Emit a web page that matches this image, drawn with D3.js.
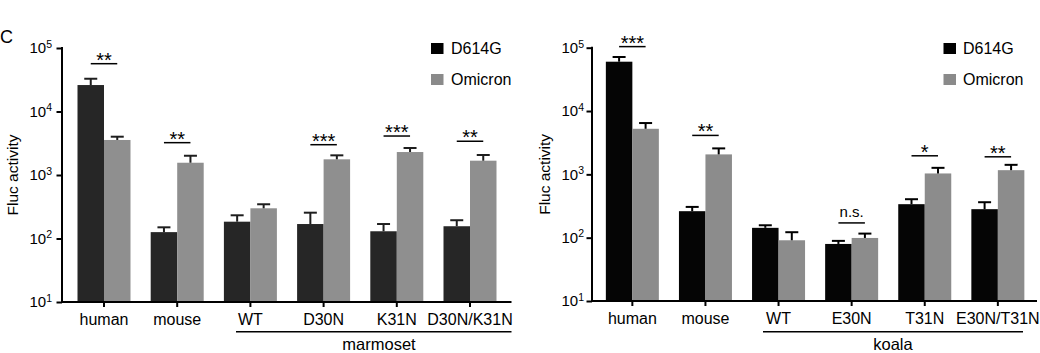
<!DOCTYPE html>
<html>
<head>
<meta charset="utf-8">
<script src="https://cdn.jsdelivr.net/npm/d3@7"></script>
<style>
  html, body { margin: 0; padding: 0; background: #fff; }
  svg { display: block; font-family: "Liberation Sans", Arial, sans-serif; }
</style>
</head>
<body>
<svg id="chart" width="1040" height="353"></svg>
<script>
// ---------- DATA ----------
const seriesNames = ["D614G", "Omicron"];
const yTickValues = [10, 100, 1000, 10000, 100000];

// Panel 1: marmoset
const categoriesA = ["human", "mouse", "WT", "D30N", "K31N", "D30N/K31N"];
const d614gA      = [26100, 126, 184, 169, 130, 156];
const d614gErrA   = [6700, 24, 48, 86, 39, 38];
const omicronA    = [3560, 1560, 299, 1766, 2300, 1680];
const omicronErrA = [450, 450, 47, 274, 360, 386];
const sigLabelsA  = ["**", "**", null, "***", "***", "**"];
const sigLevelsA  = [56600, 3230, null, 3000, 4110, 3400];
const groupA      = "marmoset";

// Panel 2: koala
const categoriesB = ["human", "mouse", "WT", "E30N", "T31N", "E30N/T31N"];
const d614gB      = [60100, 262, 143, 79.6, 338, 282];
const d614gErrB   = [11200, 44, 14, 9.4, 67, 81];
const omicronB    = [5240, 2066, 91, 99, 1033, 1164];
const omicronErrB = [1220, 504, 31, 17, 234, 249];
const sigLabelsB  = ["***", "**", null, "n.s.", "*", "**"];
const sigLevelsB  = [104000, 4120, null, 171, 1963, 1892];
const groupB      = "koala";

// ---------- LAYOUT ----------
const panels = [
  {
    cats: categoriesA, d: d614gA, dErr: d614gErrA, o: omicronA, oErr: omicronErrA,
    sig: sigLabelsA, sigLv: sigLevelsA, group: groupA,
    axisX: 62, axisEnd: 511.5, yTop: 48, yBottom: 302,
    bandStart: 67.4, bandEnd: 506.6,
    groupLine: [236, 511.5], groupLabelX: 379,
    titleX: 18, labelGap: 10,
    dark: "#262626", gray: "#8f8f8f", errColor: "#1e1e1e",
    legendX: 431, legendTextX: 451
  },
  {
    cats: categoriesB, d: d614gB, dErr: d614gErrB, o: omicronB, oErr: omicronErrB,
    sig: sigLabelsB, sigLv: sigLevelsB, group: groupB,
    axisX: 592, axisEnd: 1037, yTop: 47.7, yBottom: 301,
    bandStart: 595.8, bandEnd: 1034.4,
    groupLine: [763, 1023], groupLabelX: 893,
    titleX: 550, labelGap: 8,
    dark: "#050505", gray: "#8c8c8c", errColor: "#000",
    legendX: 943.5, legendTextX: 963
  }
];

const svg = d3.select("#chart");

// Panel letter
svg.append("text").attr("x", 0).attr("y", 43).attr("font-size", 18).text("C");

panels.forEach(p => {
  const g = svg.append("g");
  const y = d3.scaleLog().domain([10, 100000]).range([p.yBottom, p.yTop]);
  const x = d3.scaleBand().domain(p.cats).range([p.bandStart, p.bandEnd]).paddingInner(0).paddingOuter(0);
  const cx = c => x(c) + x.bandwidth() / 2;
  const barW = 26.5;

  // Bars
  const rows = p.cats.map((c, i) => ({ c, i }));
  g.selectAll("rect.d").data(rows).join("rect")
    .attr("x", r => cx(r.c) - barW).attr("width", barW)
    .attr("y", r => y(p.d[r.i])).attr("height", r => y(10) - y(p.d[r.i]))
    .attr("fill", p.dark);
  g.selectAll("rect.o").data(rows).join("rect")
    .attr("x", r => cx(r.c)).attr("width", barW)
    .attr("y", r => y(p.o[r.i])).attr("height", r => y(10) - y(p.o[r.i]))
    .attr("fill", p.gray);

  // Error bars
  const errs = [];
  rows.forEach(r => {
    errs.push({ xc: cx(r.c) - barW / 2, v: p.d[r.i], e: p.dErr[r.i] });
    errs.push({ xc: cx(r.c) + barW / 2, v: p.o[r.i], e: p.oErr[r.i] });
  });
  const eg = g.append("g").attr("stroke", p.errColor).attr("stroke-width", 2);
  errs.forEach(e => {
    eg.append("line").attr("x1", e.xc).attr("x2", e.xc).attr("y1", y(e.v)).attr("y2", y(e.v + e.e));
    eg.append("line").attr("x1", e.xc - 6.5).attr("x2", e.xc + 6.5).attr("y1", y(e.v + e.e)).attr("y2", y(e.v + e.e));
  });

  // Significance
  rows.forEach(r => {
    const lab = p.sig[r.i];
    if (!lab) return;
    const ly = y(p.sigLv[r.i]);
    const x1 = cx(r.c) - barW / 2, x2 = cx(r.c) + barW / 2;
    g.append("line").attr("x1", x1).attr("x2", x2).attr("y1", ly).attr("y2", ly)
      .attr("stroke", "#000").attr("stroke-width", 1.5);
    const isNs = lab === "n.s.";
    g.append("text").attr("x", (x1 + x2) / 2).attr("y", isNs ? ly - 6 : ly + 3)
      .attr("text-anchor", "middle").attr("font-size", isNs ? 15 : 20)
      .attr("letter-spacing", isNs ? 0 : 0)
      .text(lab);
  });

  // Y axis
  const yAxis = d3.axisLeft(y).tickValues(yTickValues).tickSize(5.5).tickFormat("");
  const ya = g.append("g").attr("transform", `translate(${p.axisX},0)`).call(yAxis);
  ya.select(".domain").remove();
  ya.selectAll(".tick line").attr("stroke", "#000").attr("stroke-width", 2);
  g.append("line").attr("x1", p.axisX).attr("x2", p.axisX)
    .attr("y1", p.yTop - 1).attr("y2", p.yBottom + 1)
    .attr("stroke", "#000").attr("stroke-width", 2);
  yTickValues.forEach(v => {
    const t = g.append("text").attr("x", p.axisX - p.labelGap).attr("y", y(v) + 5.3)
      .attr("text-anchor", "end").attr("font-size", 15);
    t.append("tspan").text("10");
    t.append("tspan").attr("font-size", 10.5).attr("dy", -5.5).text(String(Math.round(Math.log10(v))));
  });

  // X axis
  const xAxis = d3.axisBottom(x).tickSize(5).tickFormat("");
  const xa = g.append("g").attr("transform", `translate(0,${p.yBottom})`).call(xAxis);
  xa.select(".domain").remove();
  xa.selectAll(".tick line").attr("stroke", "#000").attr("stroke-width", 2);
  g.append("line").attr("x1", p.axisX - 1).attr("x2", p.axisEnd)
    .attr("y1", p.yBottom).attr("y2", p.yBottom).attr("stroke", "#000").attr("stroke-width", 2);
  p.cats.forEach(c => {
    g.append("text").attr("x", cx(c)).attr("y", p.yBottom + 22.5)
      .attr("text-anchor", "middle").attr("font-size", 16).text(c);
  });

  // Group line and label
  g.append("line").attr("x1", p.groupLine[0]).attr("x2", p.groupLine[1])
    .attr("y1", 331.7).attr("y2", 331.7).attr("stroke", "#000").attr("stroke-width", 1.5);
  g.append("text").attr("x", p.groupLabelX).attr("y", 350)
    .attr("text-anchor", "middle").attr("font-size", 16.5).text(p.group);

  // Y title
  g.append("text").attr("transform", `translate(${p.titleX},${(p.yTop + p.yBottom) / 2}) rotate(-90)`)
    .attr("text-anchor", "middle").attr("font-size", 15.5).text("Fluc activity");

  // Legend
  const legColors = ["#000", "#8a8a8a"];
  seriesNames.forEach((s, i) => {
    const ly = 43 + i * 31;
    g.append("rect").attr("x", p.legendX).attr("y", ly).attr("width", 12.5).attr("height", 11)
      .attr("fill", legColors[i]);
    g.append("text").attr("x", p.legendTextX).attr("y", ly + 10.7).attr("font-size", 16).text(s);
  });
});
</script>
</body>
</html>
